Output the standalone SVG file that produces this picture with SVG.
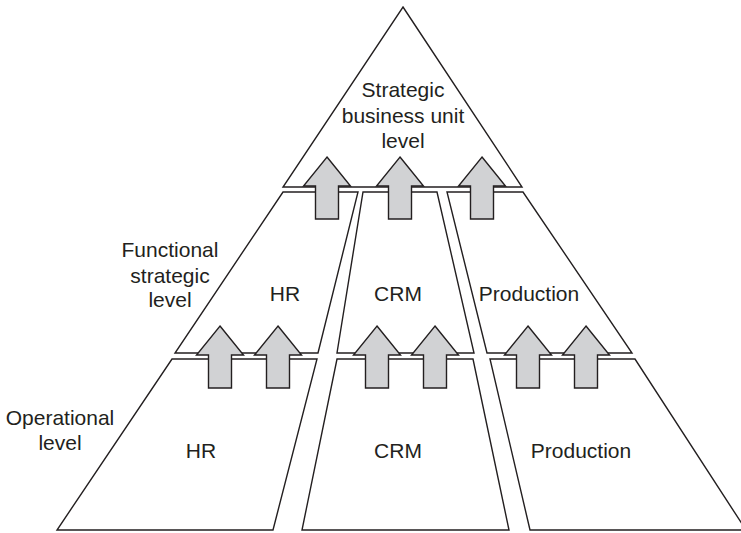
<svg xmlns="http://www.w3.org/2000/svg" xmlns:xlink="http://www.w3.org/1999/xlink" width="741" height="533" viewBox="0 0 741 533">
<style>
.shape{fill:#fff;stroke:#231f20;stroke-width:1.4;stroke-linejoin:miter}
.arrow{fill:#d1d2d4;stroke:#231f20;stroke-width:1.4;stroke-linejoin:miter}
text{font-family:"Liberation Sans",Arial,Helvetica,sans-serif;font-size:21px;fill:#231f20;text-anchor:middle}
</style>
<defs>
<path id="arr" d="M0,0 L23.5,29 L11.5,29 L11.5,62 L-11.5,62 L-11.5,29 L-23.5,29 Z"/>
</defs>
<rect width="741" height="533" fill="#fff"/>
<g id="sbu">
<polygon class="shape" points="403,7 522,187 283,187"/>
<text x="403" y="97">Strategic</text>
<text x="403" y="123">business unit</text>
<text x="403" y="148">level</text>
</g>
<g id="func-hr">
<polygon class="shape" points="283,192 358,192 318,353 175,353"/>
<text x="285" y="301">HR</text>
</g>
<g id="func-crm">
<polygon class="shape" points="363,192 437,192 474,353 337,353"/>
<text x="398" y="301">CRM</text>
</g>
<g id="func-prod">
<polygon class="shape" points="447,192 523,192 632,353 487,353"/>
<text x="529" y="301">Production</text>
</g>
<g id="func-label">
<text x="170" y="257">Functional</text>
<text x="170" y="283">strategic</text>
<text x="170" y="307">level</text>
</g>
<g id="op-hr">
<polygon class="shape" points="172,359 317,359 273,530 57,530"/>
<text x="201" y="458">HR</text>
</g>
<g id="op-crm">
<polygon class="shape" points="337,359 473,359 509,530 302,530"/>
<text x="398" y="458">CRM</text>
</g>
<g id="op-prod">
<polygon class="shape" points="490,359 635,359 746,530 530,530"/>
<text x="581" y="458">Production</text>
</g>
<g id="op-label">
<text x="60" y="425">Operational</text>
<text x="60" y="450">level</text>
</g>
<g id="connectors">
<use href="#arr" class="arrow" x="327" y="157"/>
<use href="#arr" class="arrow" x="400" y="157"/>
<use href="#arr" class="arrow" x="482" y="157"/>
<use href="#arr" class="arrow" x="220" y="326"/>
<use href="#arr" class="arrow" x="278" y="326"/>
<use href="#arr" class="arrow" x="377" y="326"/>
<use href="#arr" class="arrow" x="435" y="326"/>
<use href="#arr" class="arrow" x="528" y="326"/>
<use href="#arr" class="arrow" x="586" y="326"/>
</g>
</svg>
